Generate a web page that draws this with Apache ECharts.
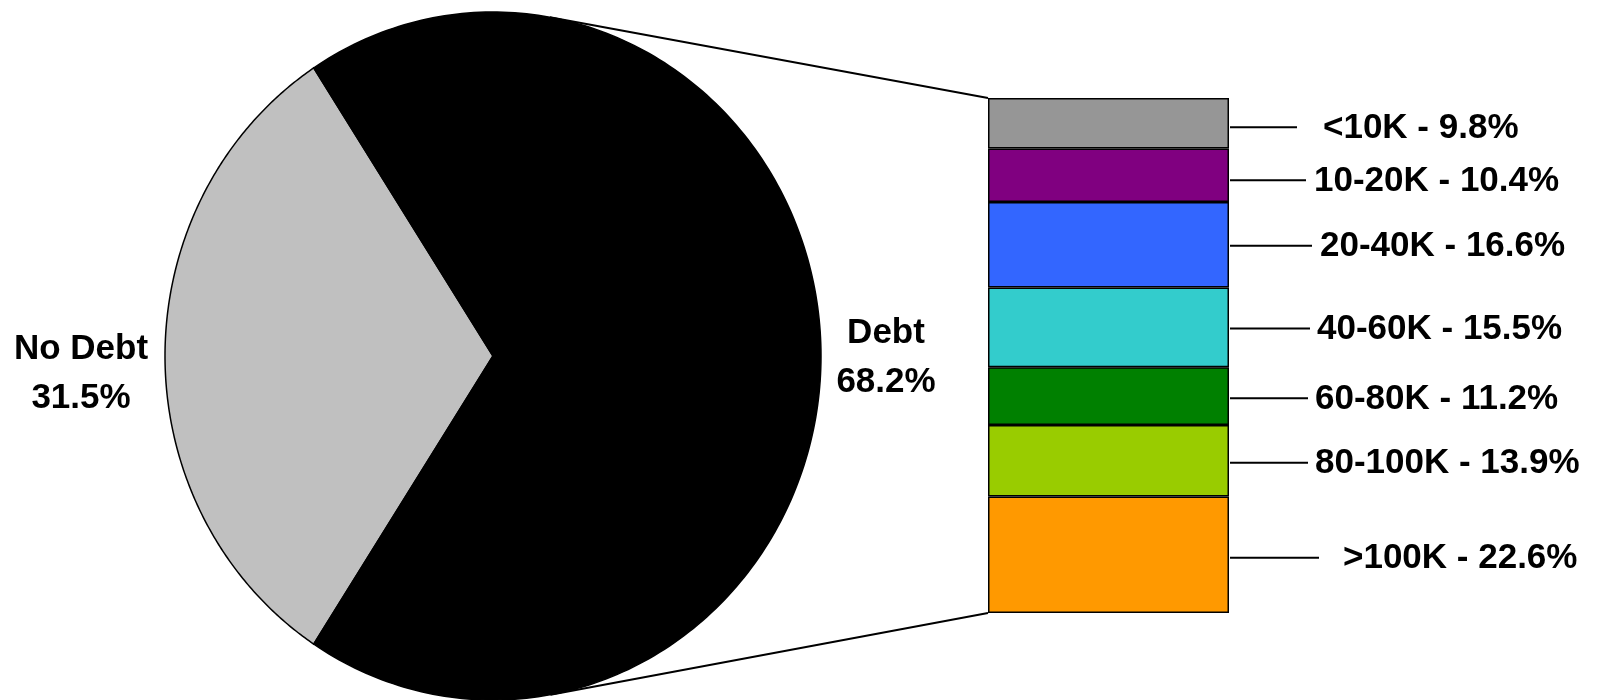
<!DOCTYPE html>
<html><head><meta charset="utf-8">
<script src="https://cdn.jsdelivr.net/npm/echarts@6/dist/echarts.min.js"></script>
<style>html,body{margin:0;padding:0;background:#fff}#c{width:1598px;height:700px}</style>
</head><body><div id="c"></div>
<script>
// ---- data ----
const pieNames = ['No Debt', 'Debt'];
const pieValues = [31.5, 68.2];
const pieColors = ['#C0C0C0', '#000000'];
const debtCategories = ['<10K', '10-20K', '20-40K', '40-60K', '60-80K', '80-100K', '>100K'];
const debtValues = [9.8, 10.4, 16.6, 15.5, 11.2, 13.9, 22.6];
const debtColors = ['#969696', '#800080', '#3366FF', '#33CCCC', '#008000', '#99CC00', '#FF9900'];

// ---- layout constants (style only) ----
const pieLabelOffset = [[-84, 18], [65, 2]];
const barLabelLeft = [94, 85, 91, 88, 86, 86, 114];
const barLineLen = [68, 77, 83, 81, 79, 79, 90];
const barLabelDy = [4, 5, 1, 1, 2, 2, 3];
const FONT = '"Liberation Sans", Arial, Helvetica, sans-serif';

const chart = echarts.init(document.getElementById('c'), null, {renderer: 'canvas'});

const total = pieValues.reduce((a, b) => a + b, 0);
const half0 = Math.PI * pieValues[0] / total;
const sliceAngles = [[Math.PI - half0, Math.PI + half0], [Math.PI + half0, 3 * Math.PI - half0]];
const labelAngles = [Math.PI, 0];

let barRect = null;

function pieRender(params, api) {
  const i = api.value(0);
  const [a0, a1] = sliceAngles[i];
  const pts = [api.coord([0, 0])];
  const steps = 240;
  for (let k = 0; k <= steps; k++) {
    const t = a0 + (a1 - a0) * k / steps;
    pts.push(api.coord([Math.cos(t), Math.sin(t)]));
  }
  const la = labelAngles[i];
  const lp = api.coord([Math.cos(la), Math.sin(la)]);
  return {
    type: 'group',
    children: [
      {type: 'polygon', shape: {points: pts},
       style: {fill: pieColors[i], stroke: '#000', lineWidth: 1.5}},
      {type: 'text',
       style: {text: pieNames[i] + '\n' + pieValues[i].toFixed(1) + '%',
               x: lp[0] + pieLabelOffset[i][0], y: lp[1] + pieLabelOffset[i][1],
               align: 'center', verticalAlign: 'middle',
               fontFamily: FONT, fontWeight: 'bold', fontSize: 35, lineHeight: 49, fill: '#000'}}
    ]
  };
}

const cum = [];
debtValues.reduce((acc, v, i) => { cum[i] = acc; return acc + v; }, 0);

function barLabelRender(params, api) {
  const i = api.value(3);
  const top = api.coord([0, api.value(1)]);
  const bot = api.coord([0, api.value(1) + api.value(2)]);
  const hw = api.size([1, 0])[0] / 2;
  const xr = top[0] + hw;
  barRect = {left: top[0] - hw, right: xr};
  const ym = (top[1] + bot[1]) / 2 + barLabelDy[i];
  return {
    type: 'group',
    children: [
      {type: 'line', shape: {x1: xr + 1, y1: ym, x2: xr + barLineLen[i], y2: ym},
       style: {stroke: '#000', lineWidth: 2}},
      {type: 'text',
       style: {text: debtCategories[i] + ' - ' + debtValues[i].toFixed(1) + '%',
               x: xr + barLabelLeft[i], y: ym + 1, align: 'left', verticalAlign: 'middle',
               fontFamily: FONT, fontWeight: 'bold', fontSize: 35, fill: '#000'}}
    ]
  };
}

const option = {
  animation: false,
  backgroundColor: '#fff',
  grid: [
    {left: 165, top: 12, width: 656, height: 690},
    {left: 988, top: 98, width: 241, height: 515}
  ],
  xAxis: [
    {type: 'value', gridIndex: 0, min: -1, max: 1, show: false},
    {type: 'category', gridIndex: 1, data: ['Debt'], show: false}
  ],
  yAxis: [
    {type: 'value', gridIndex: 0, min: -1, max: 1, show: false},
    {type: 'value', gridIndex: 1, min: 0, max: 100, inverse: true, show: false}
  ],
  series: [
    {type: 'custom', xAxisIndex: 0, yAxisIndex: 0, renderItem: pieRender,
     data: pieValues.map((v, i) => [i, v]), encode: {x: -1, y: -1}, silent: true, z: 3},
    ...debtCategories.map((name, i) => ({
      type: 'bar', name: name, stack: 'debt', xAxisIndex: 1, yAxisIndex: 1,
      barWidth: '100%', data: [debtValues[i]], silent: true,
      itemStyle: {color: debtColors[i], borderColor: '#000', borderWidth: 1.5}
    })),
    {type: 'custom', xAxisIndex: 1, yAxisIndex: 1, renderItem: barLabelRender,
     data: debtValues.map((v, i) => [0, cum[i], v, i]), encode: {x: 0, y: 1}, silent: true, z: 3}
  ]
};
chart.setOption(option);

// connector lines: tangents from the bar's corners to the pie ellipse
(function () {
  const C = chart.convertToPixel({xAxisIndex: 0, yAxisIndex: 0}, [0, 0]);
  const E = chart.convertToPixel({xAxisIndex: 0, yAxisIndex: 0}, [1, 1]);
  const rx = E[0] - C[0], ry = C[1] - E[1];
  const barTopY = chart.convertToPixel({xAxisIndex: 1, yAxisIndex: 1}, [0, 0])[1];
  const barBotY = chart.convertToPixel({xAxisIndex: 1, yAxisIndex: 1}, [0, 100])[1];
  const bx = barRect.left;
  function tangent(px, py, wantTop) {
    const A = (px - C[0]) / rx, B = (py - C[1]) / ry;
    const R = Math.hypot(A, B), phi = Math.atan2(B, A), d = Math.acos(1 / R);
    const cands = [phi + d, phi - d];
    cands.sort((p, q) => Math.sin(p) - Math.sin(q));
    const t = wantTop ? cands[0] : cands[1];
    return [C[0] + rx * Math.cos(t), C[1] + ry * Math.sin(t)];
  }
  const tp = tangent(bx, barTopY, true);
  const bp = tangent(bx, barBotY, false);
  chart.setOption({
    graphic: [
      {type: 'line', z: 1, shape: {x1: tp[0], y1: tp[1], x2: bx, y2: barTopY}, style: {stroke: '#000', lineWidth: 2}},
      {type: 'line', z: 1, shape: {x1: bp[0], y1: bp[1], x2: bx, y2: barBotY}, style: {stroke: '#000', lineWidth: 2}}
    ]
  });
})();
</script>
</body></html>
